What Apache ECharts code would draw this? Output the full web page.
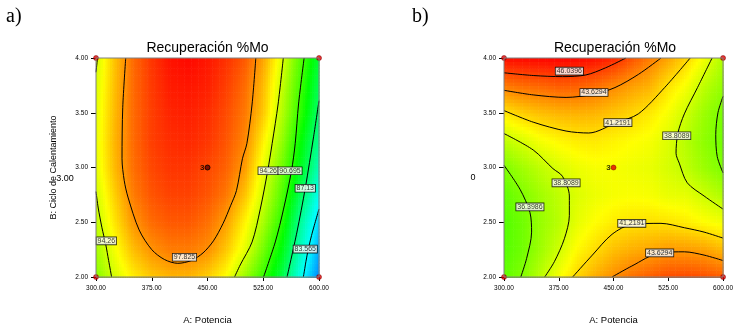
<!DOCTYPE html>
<html>
<head>
<meta charset="utf-8">
<script src="https://cdn.jsdelivr.net/npm/echarts@6/dist/echarts.min.js"></script>
<style>
  html, body { margin: 0; padding: 0; background: #fff; }
  #chart { width: 736px; height: 330px; }
</style>
</head>
<body>
<div id="chart"></div>
<script>
// ejes A (Potencia) y B (Ciclo de Calentamiento)
const potencia = [300, 325, 350, 375, 400, 425, 450, 475, 500, 525, 550, 575, 600];
const ciclo = [2.0, 2.25, 2.5, 2.75, 3.0, 3.25, 3.5, 3.75, 4.0];
const ticksA = [300, 375, 450, 525, 600];
const ticksB = [2.0, 2.5, 3.0, 3.5, 4.0];

// superficie a), una fila por valor de ciclo
const recupA = [
  [92.5, 94.3, 95.6, 96.5, 96.9, 96.9, 96.3, 95.2, 93.0, 90.7, 87.9, 84.2, 81.0],
  [93.2, 95.0, 96.7, 97.7, 98.2, 98.2, 97.8, 96.5, 94.7, 92.1, 89.2, 85.3, 81.9],
  [93.8, 95.8, 97.6, 98.6, 99.0, 99.0, 98.5, 97.4, 95.5, 93.3, 90.4, 86.1, 82.8],
  [94.2, 96.3, 98.2, 99.1, 99.5, 99.5, 99.1, 98.3, 96.6, 94.2, 91.4, 87.5, 84.0],
  [94.6, 96.8, 98.5, 99.4, 99.8, 99.8, 99.4, 98.8, 97.5, 94.8, 92.1, 88.9, 85.3],
  [94.7, 96.9, 98.6, 99.6, 100.0, 100.1, 99.8, 99.1, 98.0, 95.6, 92.9, 89.6, 86.2],
  [94.6, 96.8, 98.6, 99.6, 100.2, 100.3, 100.0, 99.3, 98.3, 96.5, 93.6, 90.6, 87.0],
  [94.4, 96.7, 98.6, 99.7, 100.4, 100.5, 100.3, 99.6, 98.6, 96.8, 94.0, 91.0, 87.6],
  [94.2, 96.6, 98.6, 99.8, 100.6, 100.8, 100.5, 99.9, 99.0, 97.3, 94.6, 91.5, 88.3]
];
// superficie b)
const recupB = [
  [35.4, 36.5, 38.2, 40.0, 41.5, 42.8, 43.7, 44.6, 45.2, 45.7, 45.8, 45.6, 45.2],
  [35.1, 35.9, 37.3, 38.8, 40.4, 41.3, 42.2, 42.7, 43.0, 43.4, 43.3, 43.1, 42.4],
  [35.0, 35.9, 37.1, 38.1, 39.5, 40.3, 40.8, 41.1, 41.2, 41.1, 40.8, 40.3, 39.9],
  [35.4, 36.4, 37.4, 38.3, 39.2, 39.7, 40.0, 40.1, 40.0, 39.6, 39.5, 38.7, 37.8],
  [36.3, 37.4, 38.3, 39.1, 39.7, 40.0, 40.0, 39.8, 39.6, 39.0, 38.3, 37.2, 36.3],
  [38.3, 39.1, 40.0, 40.5, 40.8, 40.9, 40.6, 40.3, 40.0, 39.2, 38.0, 36.8, 35.9],
  [41.0, 41.7, 42.2, 42.5, 42.6, 42.5, 42.0, 41.5, 40.9, 40.0, 38.7, 37.2, 36.1],
  [44.3, 44.7, 44.9, 45.2, 45.1, 44.7, 43.9, 43.2, 42.6, 41.1, 40.0, 38.2, 37.0],
  [47.6, 47.7, 47.8, 47.9, 47.8, 47.5, 46.8, 45.5, 44.2, 43.0, 41.5, 39.8, 37.8]
];

// curvas de nivel a) [potencia, ciclo]
const curvaA_97825 = [[340, 4.0], [336, 3.55], [335, 3.08], [338, 2.88], [343, 2.73], [358, 2.43], [375, 2.25], [392, 2.16], [410, 2.125], [428, 2.15], [444, 2.22], [458, 2.33], [471, 2.49], [481, 2.65], [489, 2.79], [497, 3.08], [503, 3.22], [510, 3.58], [515, 4.0]];
const curvaA_9426 = [[552, 4.0], [545, 3.58], [537, 3.22], [531, 2.97], [521, 2.62], [510, 2.32], [494, 2.11], [486.4, 2.0]];
const curvaA_9426izq = [[300, 2.78], [303, 2.63], [308, 2.45], [313, 2.3], [317, 2.15], [321, 2.0]];
const curvaA_9426esq = [[302, 4.0], [300, 3.87]];
const curvaA_90695 = [[580, 4.0], [572.5, 3.58], [568, 3.22], [563, 2.97], [552.3, 2.62], [541.2, 2.32], [525.4, 2.0]];
const curvaA_8713 = [[600, 3.61], [592.7, 3.28], [581.5, 2.81], [570.3, 2.41], [557, 2.0]];
const curvaA_83565 = [[600, 2.62], [590, 2.38], [584, 2.2], [579, 2.0]];
const etiquetasA = ['97.825', '94.26', '90.695', '87.13', '83.565', '94.26'];
const posEtiquetasA = [[419, 2.18], [531.6, 2.97], [561, 2.97], [581.5, 2.81], [581.5, 2.255], [313.9, 2.33]];

// curvas de nivel b)
const curvaB_46sup = [[300, 3.865], [340, 3.84], [380, 3.83], [412, 3.845], [439, 3.91], [467, 4.0]];
const curvaB_43sup = [[300, 3.705], [340, 3.663], [385, 3.64], [423, 3.67], [452, 3.73], [484, 3.85], [515, 4.0]];
const curvaB_41sup = [[300, 3.52], [340, 3.414], [385, 3.333], [416, 3.315], [454, 3.41], [484, 3.49], [520, 3.73], [555, 4.0]];
const curvaB_38der = [[585, 4.0], [565, 3.73], [547, 3.49], [538, 3.31], [535.6, 3.13], [540, 3.04], [551, 2.86], [574, 2.74], [600, 2.62]];
const curvaB_36der = [[600, 3.65], [593, 3.5], [590, 3.3], [592, 3.1], [600, 2.95]];
const curvaB_38izq = [[300, 3.31], [340, 3.16], [367, 2.99], [380, 2.92], [389.5, 2.74], [389.5, 2.56], [382.7, 2.35], [369, 2.14], [355.7, 2.0]];
const curvaB_36izq = [[300, 3.02], [322, 2.8], [335.5, 2.59], [337.8, 2.41], [331, 2.17], [323, 2.0]];
const curvaB_41inf = [[394, 2.0], [421, 2.2], [448, 2.39], [475, 2.48], [515, 2.49], [547, 2.45], [574, 2.41], [600, 2.355]];
const curvaB_43inf = [[448, 2.0], [475, 2.1], [513, 2.22], [547, 2.23], [574, 2.2], [600, 2.15]];
const etiquetasB = ['46.0396', '43.6294', '41.2191', '38.8089', '38.8089', '36.3986', '41.2191', '43.6294'];
const posEtiquetasB = [[389.5, 3.88], [423.2, 3.685], [456, 3.41], [536.6, 3.29], [385, 2.86], [335.5, 2.64], [475, 2.49], [513.2, 2.22]];

// puntos de diseño
const esquinas = [[300, 2.0], [300, 4.0], [600, 2.0], [600, 4.0]];
const centro = [[450, 3.0]];

const fuente = "'Liberation Sans', Arial, sans-serif";

// escala azul-cian-verde-amarillo-rojo
const escala = [[0, 0, 255], [0, 255, 255], [0, 255, 0], [255, 255, 0], [255, 0, 0]];
const colorDe = (v, lo, hi) => {
  let f = (v - lo) / (hi - lo) * 4;
  f = Math.max(0, Math.min(4, f));
  const k = Math.min(3, Math.floor(f));
  const r = f - k;
  const c = escala[k].map((c0, n) => Math.round(c0 + (escala[k + 1][n] - c0) * r));
  return 'rgb(' + c.join(',') + ')';
};

// relleno de la superficie, celdas sombreadas dentro de la malla
const campo = (g, vals, lo, hi) => {
  const celdas = [];
  for (let j = 0; j < ciclo.length - 1; j++)
    for (let i = 0; i < potencia.length - 1; i++) celdas.push([i, j]);
  return {
    type: 'custom', xAxisIndex: g, yAxisIndex: g, silent: true, z: 1,
    data: celdas,
    renderItem: (params, api) => {
      const i = api.value(0), j = api.value(1);
      const p0 = api.coord([potencia[i], ciclo[j]]);
      const p1 = api.coord([potencia[i + 1], ciclo[j + 1]]);
      const v00 = vals[j][i], v10 = vals[j][i + 1], v01 = vals[j + 1][i], v11 = vals[j + 1][i + 1];
      const n = 8;
      const w = (p1[0] - p0[0]) / n, h = (p0[1] - p1[1]) / n;
      const hijos = [];
      for (let a = 0; a < n; a++) {
        for (let b = 0; b < n; b++) {
          const u = (a + 0.5) / n, t = (b + 0.5) / n;
          const v = v00 * (1 - u) * (1 - t) + v10 * u * (1 - t) + v01 * (1 - u) * t + v11 * u * t;
          hijos.push({
            type: 'rect',
            shape: { x: p0[0] + a * w, y: p0[1] - (b + 1) * h, width: w + 0.6, height: h + 0.6 },
            style: { fill: colorDe(v, lo, hi) }
          });
        }
      }
      return { type: 'group', children: hijos };
    }
  };
};

const curva = (g, pts) => ({
  type: 'line', xAxisIndex: g, yAxisIndex: g, data: pts, smooth: 0.3,
  symbol: 'none', silent: true, z: 3,
  lineStyle: { color: '#000', width: 1 }
});

const etiquetas = (g, textos, pos) => ({
  type: 'scatter', xAxisIndex: g, yAxisIndex: g, silent: true, z: 4, clip: false,
  symbolSize: 1, itemStyle: { color: 'rgba(0,0,0,0)' },
  data: pos.map((p, k) => ({ value: p, label: { formatter: textos[k] } })),
  label: {
    show: true, position: 'inside', fontSize: 7, lineHeight: 7, color: '#000', fontFamily: fuente,
    backgroundColor: '#fff', borderColor: '#000', borderWidth: 0.8, padding: [0, 1, 0, 1]
  }
});

const puntos = (g, oscuro) => [
  {
    type: 'scatter', xAxisIndex: g, yAxisIndex: g, z: 5, clip: false, silent: true,
    data: esquinas, symbolSize: 5,
    itemStyle: { color: '#e00000', borderColor: '#700', borderWidth: 0.6 }
  },
  {
    type: 'scatter', xAxisIndex: g, yAxisIndex: g, z: 5, clip: false, silent: true,
    data: centro, symbolSize: 5,
    itemStyle: oscuro ? { color: '#600', borderColor: '#000', borderWidth: 1 } : { color: '#e00000', borderColor: '#700', borderWidth: 0.6 },
    label: { show: true, position: 'left', distance: 0, formatter: '3', fontSize: 8, fontWeight: 'bold', color: '#000', fontFamily: fuente }
  }
];

const ejeX = g => ({
  gridIndex: g, type: 'value', min: 300, max: 600, interval: 75,
  name: 'A: Potencia', nameLocation: 'middle', nameGap: 38,
  nameTextStyle: { fontSize: 9.5, color: '#000', fontFamily: fuente },
  axisLine: { lineStyle: { color: '#555', width: 1 } },
  axisTick: { length: 4, lineStyle: { color: '#000' } },
  axisLabel: { formatter: v => ticksA.includes(v) ? v.toFixed(2) : '', fontSize: 6.5, color: '#000', margin: 8, fontFamily: fuente },
  splitLine: { show: false }
});
const ejeY = (g, nombre) => ({
  gridIndex: g, type: 'value', min: 2, max: 4, interval: 0.5,
  name: nombre, nameLocation: 'middle', nameGap: 38,
  nameTextStyle: { fontSize: 9, color: '#000', fontFamily: fuente },
  axisLine: { lineStyle: { color: '#555', width: 1 } },
  axisTick: { length: 5, lineStyle: { color: '#000' } },
  axisLabel: { formatter: v => ticksB.includes(v) ? v.toFixed(2) : '', fontSize: 6.5, color: '#000', margin: 8, fontFamily: fuente },
  splitLine: { show: false }
});

const texto = (x, y, t, size, fam, align) => ({
  type: 'text', x, y, z: 10,
  style: { text: t, fontSize: size, fontFamily: fam, fill: '#000', align: align || 'center', verticalAlign: 'middle' }
});

const option = {
  animation: false,
  backgroundColor: '#fff',
  grid: [
    { left: 96, top: 58, width: 223, height: 222, show: true, borderColor: '#808080', borderWidth: 1, backgroundColor: 'rgba(0,0,0,0)', z: 6 },
    { left: 504, top: 58, width: 222, height: 222, show: true, borderColor: '#808080', borderWidth: 1, backgroundColor: 'rgba(0,0,0,0)', z: 6 }
  ],
  xAxis: [ejeX(0), ejeX(1)],
  yAxis: [ejeY(0, 'B: Ciclo de Calentamiento'), ejeY(1, '')],
  graphic: [
    texto(6, 17, 'a)', 20, "'Liberation Serif', 'Times New Roman', serif", 'left'),
    texto(412, 17, 'b)', 20, "'Liberation Serif', 'Times New Roman', serif", 'left'),
    texto(207.5, 48, 'Recuperación %Mo', 14, fuente),
    texto(615, 48, 'Recuperación %Mo', 14, fuente),
    texto(65, 179, '3.00', 9, fuente),
    texto(473, 178, '0', 9, fuente)
  ],
  series: [
    campo(0, recupA, 78, 101),
    campo(1, recupB, 17, 48),
    curva(0, curvaA_97825), curva(0, curvaA_9426), curva(0, curvaA_9426izq), curva(0, curvaA_9426esq),
    curva(0, curvaA_90695), curva(0, curvaA_8713), curva(0, curvaA_83565),
    curva(1, curvaB_46sup), curva(1, curvaB_43sup), curva(1, curvaB_41sup), curva(1, curvaB_38der),
    curva(1, curvaB_36der), curva(1, curvaB_38izq), curva(1, curvaB_36izq), curva(1, curvaB_41inf), curva(1, curvaB_43inf),
    etiquetas(0, etiquetasA, posEtiquetasA),
    etiquetas(1, etiquetasB, posEtiquetasB),
    ...puntos(0, true),
    ...puntos(1, false)
  ]
};

const myChart = echarts.init(document.getElementById('chart'));
myChart.setOption(option);
</script>
</body>
</html>
